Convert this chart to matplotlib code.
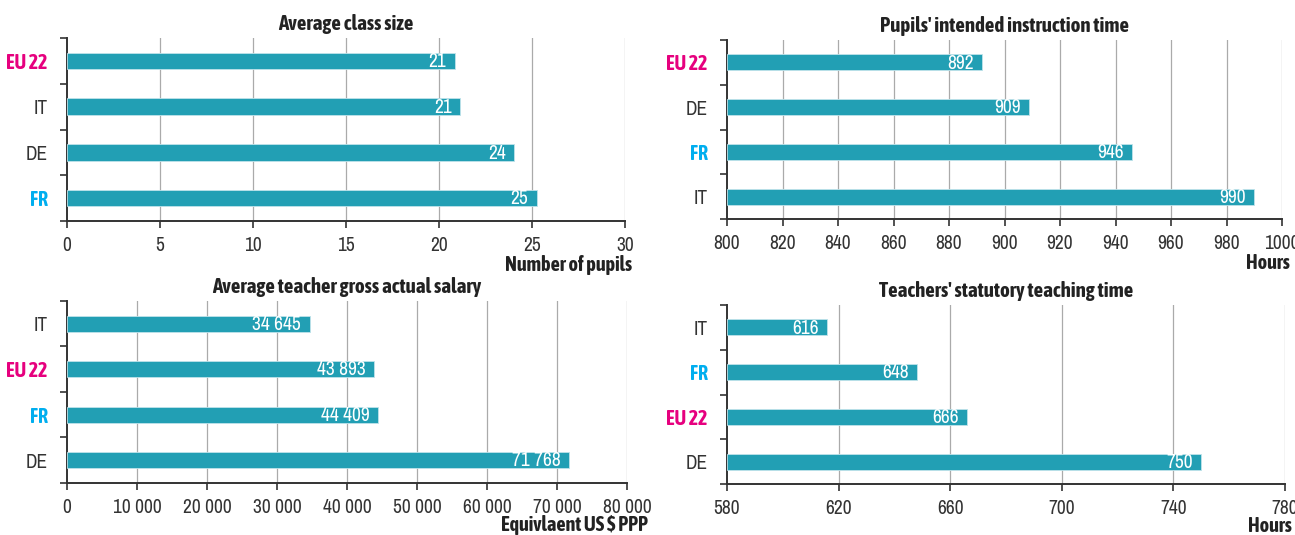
import matplotlib.pyplot as plt
import matplotlib
from matplotlib import font_manager
import numpy as np

# narrow face for normal text; bold text falls back to condensed DejaVu if needed
def weight_num(w):
    if isinstance(w, int):
        return w
    return font_manager.weight_dict.get(str(w), 400)

faces = {}
for f in font_manager.fontManager.ttflist:
    if 'Narrow' in f.name or 'Condensed' in f.name:
        faces.setdefault(f.name, set()).add(weight_num(f.weight))
regular_font = list(faces)[0] if faces else 'DejaVu Sans'
bold_names = [n for n, ws in faces.items() if max(ws) >= 700]
if bold_names:
    bold_kw = dict(family=[bold_names[0], 'DejaVu Sans'], fontweight='bold')
    scale = 1.0
else:
    bold_kw = dict(family=['DejaVu Sans'], fontweight='bold', fontstretch='condensed')
    scale = 0.85
matplotlib.rcParams['font.family'] = [regular_font, 'DejaVu Sans']

# data, top to bottom in each panel
class_countries = ['EU 22', 'IT', 'DE', 'FR']
class_size = [20.85, 21.15, 24.05, 25.25]
class_labels = ['21', '21', '24', '25']

instr_countries = ['EU 22', 'DE', 'FR', 'IT']
instr_time = [892, 909, 946, 990]

salary_countries = ['IT', 'EU 22', 'FR', 'DE']
salary = [34645, 43893, 44409, 71768]

teach_countries = ['IT', 'FR', 'EU 22', 'DE']
teach_time = [616, 648, 666, 750]

bar_color = '#229fb4'
label_colors = {'EU 22': '#e6007e', 'FR': '#00aeef'}
fs = 14

def space_fmt(v):
    return f'{int(v):,}'.replace(',', ' ')

def panel(rect, title, countries, values, labels, xmin, xmax, step, xlabel, xoff,
          yoff=-32, fmt=str):
    ax = fig.add_axes(rect)
    y = np.arange(len(countries))
    ax.barh(y, np.array(values) - xmin, left=xmin, height=0.36, color=bar_color,
            edgecolor='#bfe3ea', linewidth=0.6, zorder=3)
    for yi, v, lab in zip(y, values, labels):
        ax.annotate(lab, (v, yi), xytext=(-6, -0.5), textcoords='offset points',
                    color='white', fontsize=fs, ha='right', va='center', zorder=4)
    ax.set_ylim(len(countries) - 0.5, -0.5)
    ax.set_xlim(xmin, xmax)
    ticks = np.arange(xmin, xmax + step / 2, step)
    ax.set_xticks(ticks)
    ax.set_xticklabels([fmt(t) for t in ticks], fontsize=fs, color='#333333')
    for t in ticks[1:]:
        ax.axvline(t, color='#aaaaaa', linewidth=0.9, zorder=1)
    ax.set_yticks(y)
    ax.set_yticklabels(countries, fontsize=fs)
    for tl in ax.get_yticklabels():
        c = tl.get_text()
        if c in label_colors:
            tl.set_color(label_colors[c])
            tl.set(**bold_kw)
            tl.set_fontsize(14.3 * scale)
        else:
            tl.set_color('#333333')
    ax.tick_params(axis='y', which='major', length=0, pad=14)
    ax.set_yticks(np.arange(-0.5, len(countries) + 0.5, 1), minor=True)
    ax.tick_params(axis='y', which='minor', length=5, width=1.2, color='#333333')
    ax.tick_params(axis='x', length=5, width=1.2, color='#333333', pad=6)
    for s in ['top', 'right']:
        ax.spines[s].set_visible(False)
    for s in ['left', 'bottom']:
        ax.spines[s].set_color('#333333')
        ax.spines[s].set_linewidth(1.4)
    ax.set_title(title, fontsize=15 * scale, color='#222222', pad=6, **bold_kw)
    ax.annotate(xlabel, (1, 0), xycoords='axes fraction', xytext=(xoff, yoff),
                textcoords='offset points', ha='right', va='center',
                fontsize=14.5 * scale, color='#222222', **bold_kw)
    return ax

fig = plt.figure(figsize=(12.95, 5.35), dpi=100)
W, H = 1295, 535

def r(x0, y0, x1, y1):
    return [x0 / W, 1 - y1 / H, (x1 - x0) / W, (y1 - y0) / H]

panel(r(67, 38, 625, 221), 'Average class size', class_countries, class_size,
      class_labels, 0, 30, 5, 'Number of pupils', 5, fmt=lambda t: f'{int(t)}')
panel(r(727, 40, 1282, 219), "Pupils' intended instruction time", instr_countries,
      instr_time, [str(v) for v in instr_time], 800, 1000, 20, 'Hours', 6,
      fmt=lambda t: f'{int(t)}')
panel(r(67, 301, 627, 483), 'Average teacher gross actual salary', salary_countries,
      salary, [space_fmt(v) for v in salary], 0, 80000, 10000,
      'Equivlaent US $ PPP', 15, yoff=-30, fmt=space_fmt)
panel(r(727, 305, 1285, 484), "Teachers' statutory teaching time", teach_countries,
      teach_time, [str(v) for v in teach_time], 580, 780, 40, 'Hours', 5,
      yoff=-30, fmt=lambda t: f'{int(t)}')

fig.savefig('out.png', dpi=100)
